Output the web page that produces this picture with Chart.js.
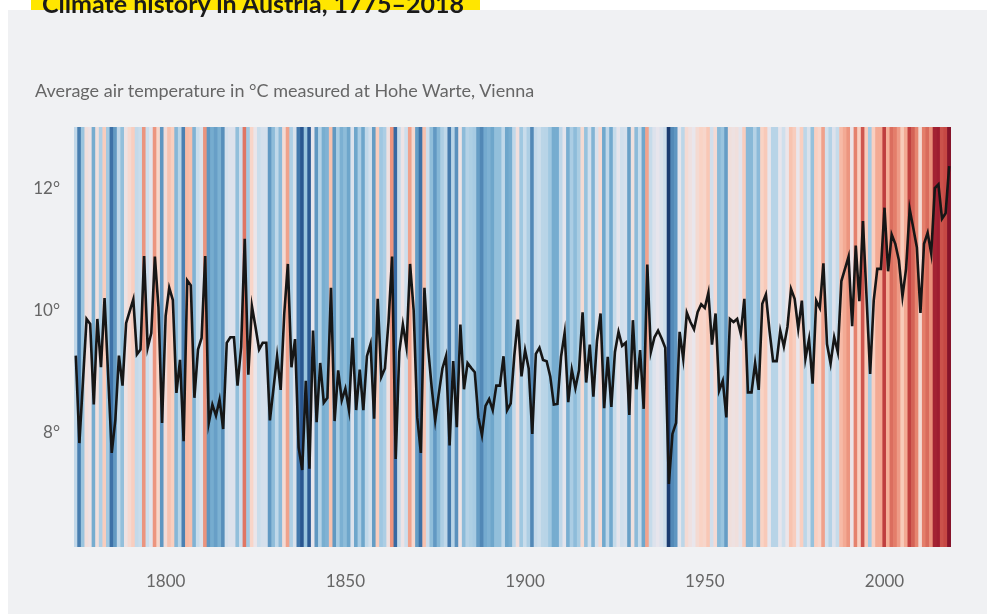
<!DOCTYPE html>
<html>
<head>
<meta charset="utf-8">
<script src="https://cdn.jsdelivr.net/npm/chart.js@4"></script>
<style>
html,body{margin:0;padding:0;background:#fff;width:987px;height:614px;overflow:hidden;font-family:Lato,sans-serif}
#panel{position:absolute;left:8px;top:10px;width:979px;height:604px;background:#f0f1f3}
#hl{position:absolute;left:31px;top:0;width:449px;height:10px;background:#ffe600}
#title{position:absolute;left:42px;top:-9px;font-weight:bold;font-size:25px;line-height:25px;font-family:Lato,sans-serif;color:#1b1b1b;white-space:nowrap}
#sub{position:absolute;left:35px;top:81px;font-size:18px;line-height:18px;font-family:Lato,sans-serif;color:#666;white-space:nowrap}
#chart{position:absolute;left:0;top:0}
</style>
</head>
<body>
<div id="panel"></div>
<div id="hl"></div>
<canvas id="chart" width="987" height="614"></canvas>
<div id="title">Climate history in Austria, 1775–2018</div>
<div id="sub">Average air temperature in °C measured at Hohe Warte, Vienna</div>
<script>
// ---- data ----
const firstYear = 1775;
const lastYear = 2018;
const xTickYears = [1800, 1850, 1900, 1950, 2000];
const yTickValues = [8, 10, 12];
// annual mean temperature (°C), Hohe Warte, 1775..2018
const temps1775 = [9.26,7.83,8.85,9.86,9.78,8.46,9.86,9.07,10.20,8.94,
                   7.67,8.21,9.26,8.77,9.79,9.99,10.18,9.28,9.36,10.89,
                   9.39,9.63,10.88,10.05,8.16];
const temps1800 = [9.91,10.37,10.17,8.65,9.19,7.86,10.49,10.41,8.57,9.36,
                   9.55,10.89,8.16,8.46,8.28,8.54,8.06,9.47,9.56,9.56,
                   8.77,9.40,11.17,8.95,10.07,9.73,9.36,9.47,9.47,8.20,
                   8.72,9.25,8.70,9.95,10.76,9.07,9.53,7.76,7.39,8.85,
                   7.41,9.67,8.17,9.14,8.49,8.57,10.37,8.19,9.02,8.53];
const temps1850 = [8.72,8.37,9.55,8.37,9.03,8.37,9.25,9.45,8.23,10.19,
                   8.91,9.05,9.81,10.88,7.57,9.32,9.77,9.40,10.76,10.00,
                   8.25,7.67,10.37,9.40,8.75,8.20,8.64,9.05,9.25,7.79,
                   9.17,8.09,9.77,8.71,9.14,9.06,8.99,8.25,7.96,8.44,
                   8.55,8.37,8.77,8.77,9.25,8.37,8.48,9.26,9.85,8.92];
const temps1900 = [9.35,9.05,7.98,9.29,9.39,9.19,9.17,8.92,8.46,8.47,
                   9.24,9.63,8.50,9.03,8.73,9.02,9.97,8.82,9.44,8.59,
                   9.50,9.95,8.40,9.24,8.42,9.32,9.65,9.42,9.47,8.29,
                   9.84,8.71,9.35,8.39,10.75,9.32,9.56,9.67,9.54,9.39,
                   7.16,7.98,8.16,9.65,9.21,9.96,9.81,9.69,9.97,10.10];
const temps1950 = [10.04,10.29,9.44,9.95,8.69,8.85,8.25,9.86,9.81,9.86,
                   9.62,10.19,8.66,8.66,9.14,8.70,10.11,10.26,9.67,9.17,
                   9.17,9.67,9.41,9.73,10.35,10.19,9.70,10.16,9.21,9.53,
                   8.80,10.16,10.04,10.77,9.45,9.13,9.56,9.32,10.48,10.68,
                   10.88,9.74,11.06,10.15,11.46,10.22,8.96,10.16,10.68,10.68];
const temps2000 = [11.68,10.64,11.24,11.09,10.82,10.23,10.68,11.66,11.35,11.03,
                   9.96,11.09,11.27,10.93,12.00,12.06,11.50,11.59,12.36];

const temps = [].concat(temps1775, temps1800, temps1850, temps1900, temps1950, temps2000);
const years = [];
for (let y = firstYear; y <= lastYear; y++) years.push(y);

// ---- stripe colour scale (anomaly around reference level) ----
const refLevel = 9.7, halfRange = 2.6;
const stops = [
  [-1.0, [22, 52, 104]],
  [-0.85, [48, 98, 158]],
  [-0.7, [76, 130, 178]],
  [-0.5, [112, 168, 205]],
  [-0.3, [160, 200, 225]],
  [-0.12, [205, 222, 236]],
  [ 0.0, [234, 230, 236]],
  [ 0.15, [249, 212, 198]],
  [ 0.35, [246, 178, 155]],
  [ 0.55, [226, 122, 102]],
  [ 0.75, [194, 66, 64]],
  [ 0.9, [160, 30, 48]],
  [ 1.0, [134, 20, 42]]
];
function stripeColor(v) {
  let t = (v - refLevel) / halfRange;
  t = Math.max(-1, Math.min(1, t));
  for (let i = 0; i < stops.length - 1; i++) {
    const [t0, c0] = stops[i], [t1, c1] = stops[i + 1];
    if (t >= t0 && t <= t1) {
      const f = (t - t0) / (t1 - t0);
      const c = c0.map((a, k) => Math.round(a + (c1[k] - a) * f));
      return `rgb(${c[0]},${c[1]},${c[2]})`;
    }
  }
  return 'rgb(134,20,42)';
}
const stripeColors = temps.map(stripeColor);
const stripeHeights = temps.map(() => 1);

const tickFont = { family: 'Lato, sans-serif', size: 17 };

new Chart(document.getElementById('chart'), {
  data: {
    labels: years.map(String),
    datasets: [
      {
        type: 'line',
        data: temps,
        borderColor: '#161616',
        borderWidth: 2.6,
        pointRadius: 0,
        tension: 0,
        yAxisID: 'y',
        order: 0
      },
      {
        type: 'bar',
        data: stripeHeights,
        backgroundColor: stripeColors,
        borderWidth: 0,
        barPercentage: 1,
        categoryPercentage: 1,
        yAxisID: 'yStripe',
        order: 1
      }
    ]
  },
  options: {
    responsive: false,
    animation: false,
    devicePixelRatio: 1,
    layout: { padding: { left: 0, right: 36, top: 127, bottom: 0 } },
    plugins: { legend: { display: false }, tooltip: { enabled: false } },
    scales: {
      x: {
        type: 'category',
        offset: true,
        grid: { display: false, drawTicks: false },
        border: { display: false },
        ticks: {
          autoSkip: false, maxRotation: 0, minRotation: 0,
          padding: 24, color: '#666', font: tickFont,
          callback: function (v, i) {
            const y = years[i];
            return xTickYears.includes(y) ? String(y) : null;
          }
        },
        afterFit: function (s) { s.height = 67; }
      },
      y: {
        min: 6.13, max: 13.0,
        grid: { display: false, drawTicks: false },
        border: { display: false },
        ticks: {
          color: '#666', font: tickFont, padding: 14,
          callback: function (v) { return v + '°'; }
        },
        afterBuildTicks: function (s) { s.ticks = yTickValues.map(v => ({ value: v })); },
        afterFit: function (s) { s.width = 74; }
      },
      yStripe: { display: false, min: 0, max: 1 }
    }
  }
});
</script>
</body>
</html>
